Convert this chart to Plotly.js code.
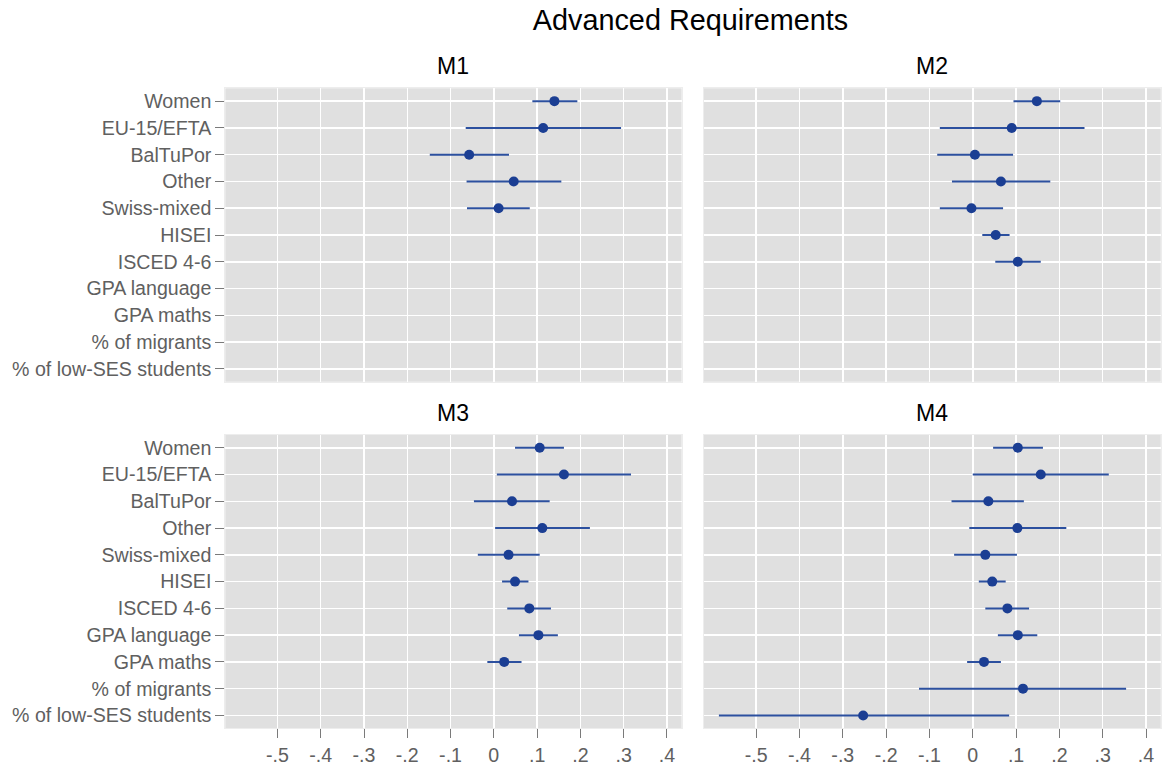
<!DOCTYPE html>
<html>
<head>
<meta charset="utf-8">
<script src="https://cdn.plot.ly/plotly-3.0.1.min.js"></script>
<style>
  html, body { margin: 0; padding: 0; background: #ffffff; }
  #chart { width: 1168px; height: 767px; }
</style>
</head>
<body>
<div id="chart"></div>
<script>
// Regressors, listed top to bottom
const variables = [
  'Women', 'EU-15/EFTA', 'BalTuPor', 'Other', 'Swiss-mixed', 'HISEI',
  'ISCED 4-6', 'GPA language', 'GPA maths', '% of migrants', '% of low-SES students'
];

// Coefficients with lower / upper confidence bounds per model
const m1Coef = [0.140, 0.114, -0.057, 0.046, 0.011, null, null, null, null, null, null];
const m1Lo   = [0.089, -0.065, -0.148, -0.063, -0.062, null, null, null, null, null, null];
const m1Hi   = [0.193, 0.294, 0.035, 0.156, 0.083, null, null, null, null, null, null];

const m2Coef = [0.148, 0.090, 0.005, 0.065, -0.003, 0.053, 0.104, null, null, null, null];
const m2Lo   = [0.094, -0.076, -0.082, -0.048, -0.076, 0.022, 0.052, null, null, null, null];
const m2Hi   = [0.202, 0.258, 0.093, 0.179, 0.070, 0.085, 0.157, null, null, null, null];

const m3Coef = [0.106, 0.162, 0.042, 0.112, 0.034, 0.049, 0.082, 0.103, 0.024, null, null];
const m3Lo   = [0.049, 0.007, -0.046, 0.003, -0.037, 0.019, 0.031, 0.058, -0.015, null, null];
const m3Hi   = [0.162, 0.317, 0.129, 0.222, 0.106, 0.080, 0.132, 0.148, 0.064, null, null];

const m4Coef = [0.104, 0.157, 0.036, 0.103, 0.029, 0.045, 0.080, 0.104, 0.026, 0.116, -0.253];
const m4Lo   = [0.047, 0.000, -0.049, -0.008, -0.043, 0.014, 0.029, 0.058, -0.013, -0.124, -0.586];
const m4Hi   = [0.162, 0.314, 0.118, 0.216, 0.102, 0.076, 0.130, 0.149, 0.065, 0.354, 0.084];

const modelNames = ['M1', 'M2', 'M3', 'M4'];

const xTickVals = [-0.5, -0.4, -0.3, -0.2, -0.1, 0, 0.1, 0.2, 0.3, 0.4];
const xTickText = ['-.5', '-.4', '-.3', '-.2', '-.1', '0', '.1', '.2', '.3', '.4'];

const dotColor = '#1b3e93';
const barColor = '#2c509f';
const refColor = '#e8446a';
const fontFamily = 'Liberation Sans, Arial, sans-serif';
const tickFont = { family: fontFamily, size: 19.6, color: '#606060' };

const models = [
  { coef: m1Coef, lo: m1Lo, hi: m1Hi },
  { coef: m2Coef, lo: m2Lo, hi: m2Hi },
  { coef: m3Coef, lo: m3Lo, hi: m3Hi },
  { coef: m4Coef, lo: m4Lo, hi: m4Hi }
];

const traces = models.map((m, i) => {
  const sfx = i === 0 ? '' : String(i + 1);
  return {
    type: 'scatter',
    mode: 'markers',
    x: m.coef,
    y: variables,
    xaxis: 'x' + sfx,
    yaxis: 'y' + sfx,
    marker: { color: dotColor, size: 10 },
    error_x: {
      type: 'data',
      symmetric: false,
      array: m.coef.map((c, k) => (c === null ? null : m.hi[k] - c)),
      arrayminus: m.coef.map((c, k) => (c === null ? null : c - m.lo[k])),
      color: barColor,
      thickness: 2,
      width: 0
    },
    showlegend: false,
    hoverinfo: 'x+y'
  };
});

// Panel placement (paper fractions)
const colDomains = [[0.1929, 0.5836], [0.6027, 0.9938]];
const rowDomains = [[0.5023, 0.8849], [0.0505, 0.4329]];

const layout = {
  width: 1168,
  height: 767,
  margin: { l: 0, r: 0, t: 0, b: 0 },
  paper_bgcolor: '#ffffff',
  plot_bgcolor: '#e0e0e0',
  font: { family: fontFamily, color: '#000000' },
  title: {
    text: 'Advanced Requirements',
    font: { family: fontFamily, size: 28.8, color: '#000000' },
    x: 690.5 / 1168,
    xanchor: 'center',
    xref: 'paper',
    y: 1 - 19.5 / 767,
    yanchor: 'middle',
    yref: 'container'
  },
  shapes: [],
  annotations: []
};

models.forEach((m, i) => {
  const sfx = i === 0 ? '' : String(i + 1);
  const col = i % 2;
  const row = Math.floor(i / 2);
  const isBottom = row === 1;
  const isLeft = col === 0;

  layout['xaxis' + sfx] = {
    domain: colDomains[col],
    anchor: 'y' + sfx,
    range: [-0.6205, 0.434],
    tickmode: 'array',
    tickvals: xTickVals,
    ticktext: xTickText,
    showticklabels: isBottom,
    ticks: isBottom ? 'outside' : '',
    ticklen: 9,
    tickwidth: 1,
    tickcolor: '#7a7a7a',
    tickfont: tickFont,
    showgrid: true,
    gridcolor: '#ffffff',
    gridwidth: 1.5,
    zeroline: false,
    showline: true,
    linecolor: '#ededed',
    linewidth: 1,
    mirror: true,
    fixedrange: true
  };

  layout['yaxis' + sfx] = {
    domain: rowDomains[row],
    anchor: 'x' + sfx,
    type: 'category',
    categoryorder: 'array',
    categoryarray: variables,
    range: [10.48, -0.48],
    showticklabels: isLeft,
    ticks: isLeft ? 'outside' : '',
    ticklen: 9,
    tickwidth: 1,
    tickcolor: '#7a7a7a',
    tickfont: tickFont,
    showgrid: true,
    gridcolor: '#ffffff',
    gridwidth: 1.5,
    zeroline: false,
    showline: true,
    linecolor: '#ededed',
    linewidth: 1,
    mirror: true,
    fixedrange: true
  };

  // Reference line at zero, drawn under the estimates
  layout.shapes.push({
    type: 'line',
    xref: 'x' + sfx,
    yref: 'y' + sfx + ' domain',
    x0: 0, x1: 0, y0: 0, y1: 1,
    line: { color: refColor, width: 1.5, dash: '5px,3px' },
    layer: 'below'
  });

  // Panel heading
  layout.annotations.push({
    text: modelNames[i],
    xref: 'x' + sfx + ' domain',
    yref: 'y' + sfx + ' domain',
    x: 0.5,
    y: 1,
    xanchor: 'center',
    yanchor: 'bottom',
    yshift: 7,
    showarrow: false,
    font: { family: fontFamily, size: 23, color: '#000000' }
  });
});

Plotly.newPlot('chart', traces, layout, { displayModeBar: false, staticPlot: true });
</script>
</body>
</html>
